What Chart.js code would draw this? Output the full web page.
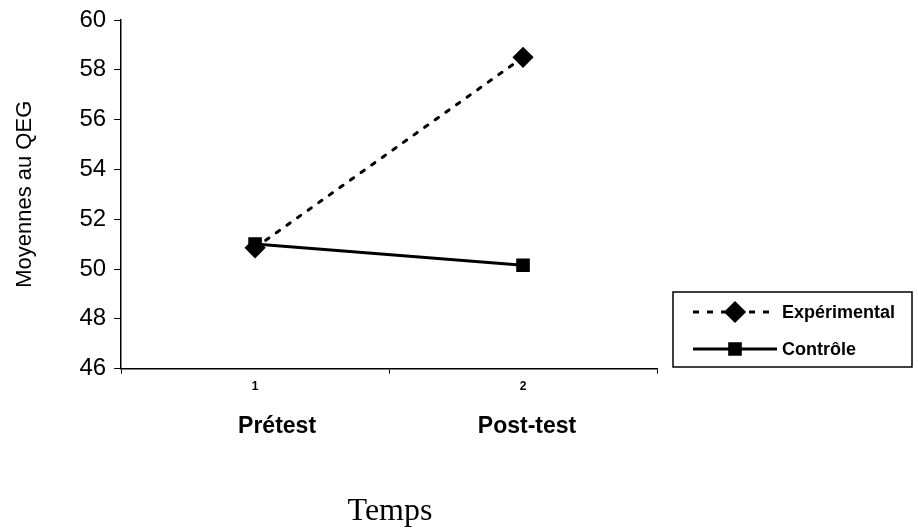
<!DOCTYPE html>
<html>
<head>
<meta charset="utf-8">
<script src="https://cdn.jsdelivr.net/npm/chart.js@4.4.1/dist/chart.umd.min.js"></script>
<style>
  html, body { margin: 0; padding: 0; background: #fff; }
  #wrap { width: 918px; height: 531px; position: relative; }
</style>
</head>
<body>
<div id="wrap"><canvas id="chart" width="918" height="531"></canvas></div>
<script>
// données
const tickLabels = ["1", "2"];
const phases = ["Prétest", "Post-test"];
const experimental = [50.85, 58.5];
const controle = [51.0, 50.15];
const yTicks = [46, 48, 50, 52, 54, 56, 58, 60];

const FONT = "'Liberation Sans', Arial, sans-serif";

// noms des phases + titre "Temps" sous l'axe
const bottomText = {
  id: "bottomText",
  afterDraw(chart) {
    const ctx = chart.ctx;
    const xs = chart.scales.x;
    const shift = [22, 4];
    ctx.save();
    ctx.fillStyle = "#000";
    ctx.textAlign = "center";
    ctx.textBaseline = "alphabetic";
    ctx.font = "bold 23px " + FONT;
    phases.forEach((p, i) => ctx.fillText(p, xs.getPixelForValue(i) + shift[i], 433));
    ctx.font = "32px 'Liberation Serif', 'Times New Roman', serif";
    ctx.fillText("Temps", 390, 520);
    ctx.restore();
  }
};

// légende encadrée dessinée à la main
const boxLegend = {
  id: "boxLegend",
  afterDraw(chart) {
    const ctx = chart.ctx;
    const x = 673, y = 292, w = 239, h = 75;
    ctx.save();
    ctx.strokeStyle = "#000";
    ctx.lineWidth = 1.5;
    ctx.strokeRect(x, y, w, h);

    const rows = [
      { label: "Expérimental", dash: [6, 8], style: "rectRot", r: 9, cy: y + 20 },
      { label: "Contrôle", dash: [], style: "rect", r: 7.5, cy: y + 57 }
    ];
    rows.forEach(row => {
      ctx.beginPath();
      ctx.strokeStyle = "#000";
      ctx.setLineDash(row.dash);
      ctx.lineWidth = 3;
      ctx.moveTo(x + 20, row.cy);
      ctx.lineTo(x + 104, row.cy);
      ctx.stroke();
      ctx.setLineDash([]);
      ctx.fillStyle = "#000";
      Chart.helpers.drawPoint(ctx, { pointStyle: row.style, radius: row.r, borderWidth: 1 }, x + 62, row.cy);
      ctx.font = "bold 18px " + FONT;
      ctx.textBaseline = "middle";
      ctx.fillText(row.label, x + 109, row.cy + 1);
    });
    ctx.restore();
  }
};

new Chart(document.getElementById("chart"), {
  type: "line",
  data: {
    labels: tickLabels,
    datasets: [
      {
        label: "Expérimental",
        data: experimental,
        borderColor: "#000",
        backgroundColor: "#000",
        borderWidth: 3,
        borderDash: [4, 9],
        borderCapStyle: "round",
        pointStyle: "rectRot",
        pointRadius: 8.5,
        order: 2
      },
      {
        label: "Contrôle",
        data: controle,
        borderColor: "#000",
        backgroundColor: "#000",
        borderWidth: 3,
        pointStyle: "rect",
        pointRadius: 7.5,
        order: 1
      }
    ]
  },
  options: {
    responsive: false,
    animation: false,
    layout: { padding: { top: 2, left: 8, right: 261, bottom: 131 } },
    plugins: { legend: { display: false }, tooltip: { enabled: false } },
    scales: {
      y: {
        min: 46, max: 60,
        afterBuildTicks: s => { s.ticks = yTicks.map(v => ({ value: v })); },
        grid: { drawOnChartArea: false, drawTicks: true, tickLength: 7, color: "#000" },
        border: { color: "#000", width: 1.5 },
        ticks: { color: "#000", font: { family: FONT, size: 24, lineHeight: 1 }, padding: 8 },
        title: { display: true, text: "Moyennes au QEG", color: "#000", font: { family: FONT, size: 22 }, padding: { bottom: 33 } }
      },
      x: {
        type: "category",
        offset: true,
        grid: { offset: true, drawOnChartArea: false, drawTicks: true, tickLength: 5, color: "#000" },
        border: { color: "#000", width: 1.5 },
        ticks: { color: "#000", font: { family: FONT, size: 12, weight: "bold" }, padding: 6 }
      }
    }
  },
  plugins: [boxLegend, bottomText]
});
</script>
</body>
</html>
